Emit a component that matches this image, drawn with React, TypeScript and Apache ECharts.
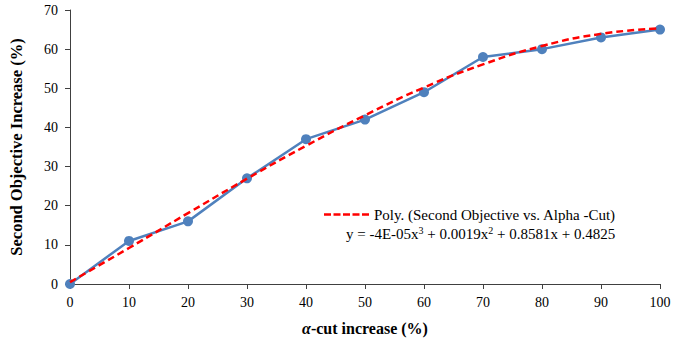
import React, { useEffect, useRef } from "react";
import * as echarts from "echarts";

const xValues = [0, 10, 20, 30, 40, 50, 60, 70, 80, 90, 100];
const secondObjective = [0, 11, 16, 27, 37, 42, 49, 58, 60, 63, 65];
const trendValues = [0.48, 9.2, 18.1, 26.9, 35.3, 43.1, 50.2, 56.1, 60.8, 63.9, 65.3];
const trendName = "Poly. (Second Objective vs. Alpha -Cut)";

const serif = "Liberation Serif";
const dashIcon =
  "path://M0,0h7v2.5h-7z M9.5,0h7v2.5h-7z M19,0h7v2.5h-7z M28.5,0h7v2.5h-7z M38,0h7v2.5h-7z";

export default function App() {
  const ref = useRef<HTMLDivElement>(null);
  useEffect(() => {
    document.body.style.margin = "0";
    const chart = echarts.init(ref.current!, undefined, { renderer: "svg" });
    chart.setOption({
      animation: false,
      textStyle: { fontFamily: serif },
      grid: { left: 70, right: 37, top: 10, bottom: 60 },
      legend: {
        data: [{ name: trendName, icon: dashIcon, itemStyle: { color: "#FF0000" } }],
        left: 319,
        top: 202,
        itemWidth: 45,
        itemHeight: 3,
        itemGap: 5,
        textStyle: { fontFamily: serif, fontSize: 15, color: "#000" },
      },
      xAxis: {
        type: "value",
        min: 0,
        max: 100,
        interval: 10,
        name: "{a|α}-cut increase (%)",
        nameLocation: "middle",
        nameGap: 36,
        nameTextStyle: {
          fontFamily: serif,
          fontSize: 16,
          fontWeight: "bold",
          color: "#000",
          rich: {
            a: { fontFamily: serif, fontSize: 16, fontWeight: "bold", fontStyle: "italic", color: "#000" },
          },
        },
        axisLine: { lineStyle: { color: "#404040", width: 1 } },
        axisTick: { show: true, length: 5, lineStyle: { color: "#404040" } },
        axisLabel: { fontFamily: serif, fontSize: 14, color: "#000", margin: 11 },
        splitLine: { show: false },
      },
      yAxis: {
        type: "value",
        min: 0,
        max: 70,
        interval: 10,
        name: "Second Objective Increase (%)",
        nameLocation: "middle",
        nameGap: 45,
        nameTextStyle: { fontFamily: serif, fontSize: 16.5, fontWeight: "bold", color: "#000" },
        axisLine: { show: true, lineStyle: { color: "#404040", width: 1 } },
        axisTick: { show: true, length: 5, lineStyle: { color: "#404040" } },
        axisLabel: { fontFamily: serif, fontSize: 14, color: "#000", margin: 12 },
        splitLine: { show: false },
      },
      series: [
        {
          name: "Second Objective vs. Alpha-Cut",
          type: "line",
          data: xValues.map((x, i) => [x, secondObjective[i]]),
          symbol: "circle",
          symbolSize: 10,
          lineStyle: { color: "#4F81BD", width: 2.5 },
          itemStyle: { color: "#4F81BD" },
          z: 2,
        },
        {
          name: trendName,
          type: "line",
          data: xValues.map((x, i) => [x, trendValues[i]]),
          smooth: true,
          symbol: "none",
          lineStyle: { color: "#FF0000", width: 2.5, type: [7, 4] },
          itemStyle: { color: "#FF0000" },
          z: 3,
        },
      ],
      graphic: [
        {
          type: "text",
          left: 346,
          top: 225,
          style: {
            text: "y = -4E-05x{s|3} + 0.0019x{s|2} + 0.8581x + 0.4825",
            fontFamily: serif,
            fontSize: 15,
            fill: "#000",
            rich: {
              s: { fontFamily: serif, fontSize: 10, verticalAlign: "top", padding: [0, 0, 8, 0] },
            },
          },
        },
      ],
    });
    return () => chart.dispose();
  }, []);
  return <div ref={ref} style={{ width: 697, height: 344 }} />;
}
